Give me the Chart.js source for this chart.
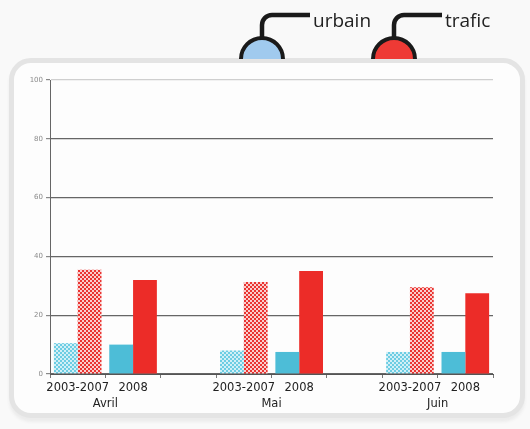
<!DOCTYPE html>
<html lang="fr">
<head>
<meta charset="UTF-8">
<title>urbain / trafic</title>
<script src="https://cdn.jsdelivr.net/npm/chart.js"></script>
<style>
  html, body { margin: 0; padding: 0; background: #f9f9f9; }
  #wrap { position: relative; width: 530px; height: 429px; overflow: hidden; }
  #panel {
    position: absolute; left: 9px; top: 58px; width: 516px; height: 360px;
    box-sizing: border-box; border: 5px solid #e4e4e4; border-radius: 22px;
    background: #fdfdfd; box-shadow: 0 4px 3px #ececec;
  }
  #chart { position: absolute; left: 0; top: 0; }
</style>
</head>
<body>
<div id="wrap">
  <div id="panel"></div>
  <canvas id="chart" width="530" height="429"></canvas>
</div>
<script>
// values
const months = ["Avril", "Mai", "Juin"];
const periods = ["2003-2007", "2008"];
const urbain2003_2007 = [10.5, 8, 7.5];
const urbain2008 = [10, 7.5, 7.5];
const trafic2003_2007 = [35.5, 31.3, 29.5];
const trafic2008 = [32, 35, 27.5];
const yTicks = [0, 20, 40, 60, 80, 100];

function pattern(dot, bg) {
  const c = document.createElement("canvas");
  c.width = 4; c.height = 4;
  const g = c.getContext("2d");
  g.fillStyle = bg; g.fillRect(0, 0, 4, 4);
  g.fillStyle = dot;
  g.fillRect(0, 0, 2, 2);
  g.fillRect(2, 2, 2, 2);
  return g.createPattern(c, "repeat");
}

const cyan = "#4dbdd7", red = "#ec2c28";
const cyanHatch = pattern("#6ccde3", "#d2eff6");
const redHatch = pattern("#ea3431", "#f9cfce");

// one slot per period, plus an empty slot between months
const labels = [], urbainData = [], traficData = [], urbainColors = [], traficColors = [];
months.forEach((m, i) => {
  if (i > 0) {
    labels.push(""); urbainData.push(null); traficData.push(null);
    urbainColors.push(cyan); traficColors.push(red);
  }
  labels.push(periods[0], periods[1]);
  urbainData.push(urbain2003_2007[i], urbain2008[i]);
  traficData.push(trafic2003_2007[i], trafic2008[i]);
  urbainColors.push(cyanHatch, cyan);
  traficColors.push(redHatch, red);
});

const monthLabels = {
  id: "monthLabels",
  afterDraw(chart) {
    const ctx = chart.ctx, x = chart.scales.x;
    ctx.save();
    ctx.font = "11.5px 'DejaVu Sans'";
    ctx.fillStyle = "#222";
    ctx.textAlign = "center";
    ctx.textBaseline = "middle";
    months.forEach((m, i) => {
      const a = i * 3;
      const cx = (x.getPixelForValue(a) + x.getPixelForValue(a + 1)) / 2;
      ctx.fillText(m, cx, 404);
    });
    ctx.restore();
  }
};

const legendIcons = {
  id: "legendIcons",
  afterDraw(chart) {
    const ctx = chart.ctx;
    const items = [
      { label: chart.data.datasets[0].label, fill: "#a0caee", cx: 262 },
      { label: chart.data.datasets[1].label, fill: "#ee3a35", cx: 394 }
    ];
    ctx.save();
    items.forEach(it => {
      ctx.strokeStyle = "#1a1a1a";
      ctx.lineWidth = 4.5;
      ctx.beginPath();
      ctx.moveTo(it.cx, 38);
      ctx.lineTo(it.cx, 26);
      ctx.arcTo(it.cx, 15, it.cx + 11, 15, 10);
      ctx.lineTo(it.cx + 48, 15);
      ctx.stroke();

      ctx.beginPath();
      ctx.arc(it.cx, 59, 21, Math.PI, 0);
      ctx.fillStyle = it.fill;
      ctx.fill();
      ctx.lineWidth = 4;
      ctx.stroke();

      ctx.font = "19px 'Open Sans'";
      ctx.fillStyle = "#222";
      ctx.textBaseline = "alphabetic";
      ctx.fillText(it.label, it.cx + 51, 27);
    });
    ctx.restore();
  }
};

new Chart(document.getElementById("chart"), {
  type: "bar",
  data: {
    labels: labels,
    datasets: [
      { label: "urbain", data: urbainData, backgroundColor: urbainColors, borderWidth: 0 },
      { label: "trafic", data: traficData, backgroundColor: traficColors, borderWidth: 0 }
    ]
  },
  options: {
    responsive: false,
    animation: false,
    layout: { padding: { left: 0, right: 37, top: 80, bottom: 0 } },
    datasets: { bar: { categoryPercentage: 0.86, barPercentage: 1 } },
    plugins: { legend: { display: false }, tooltip: { enabled: false } },
    scales: {
      x: {
        grid: { offset: true, drawOnChartArea: false, drawTicks: true, tickLength: 4, color: "#777" },
        border: { color: "#555", width: 1 },
        ticks: { color: "#222", font: { family: "DejaVu Sans", size: 11.5 }, padding: 3, maxRotation: 0, autoSkip: false },
        afterFit: s => { s.height = 55; }
      },
      y: {
        min: 0, max: 100,
        afterBuildTicks: s => { s.ticks = yTicks.map(v => ({ value: v })); },
        grid: {
          color: c => (c.tick && c.tick.value === 100 ? "#cfcfcf" : "#666"),
          lineWidth: 1.2,
          tickLength: 4, tickColor: "#888"
        },
        border: { color: "#666", width: 1 },
        ticks: { color: "#8a8a8a", font: { family: "DejaVu Sans", size: 7 }, padding: 3 },
        afterFit: s => { s.width = 50; }
      }
    }
  },
  plugins: [monthLabels, legendIcons]
});
</script>
</body>
</html>
